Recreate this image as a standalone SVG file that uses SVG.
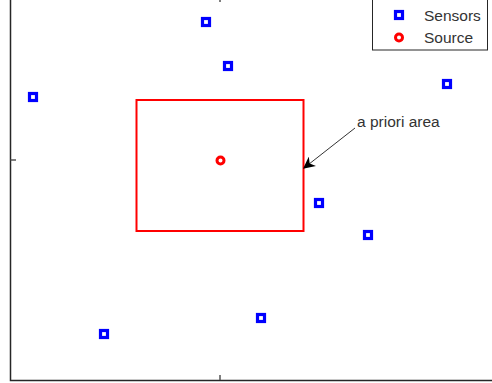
<svg xmlns="http://www.w3.org/2000/svg" width="492" height="383" viewBox="0 0 492 383">
<defs>
<style>
.sensor{fill:none;stroke:#0000ff;stroke-width:3.2}
.source{fill:none;stroke:#ff0000;stroke-width:3}
.axis{stroke:#262626;stroke-width:1.5;fill:none}
.tick{stroke:#555;stroke-width:1.5}
.lbl{font-family:"Liberation Sans",Arial,sans-serif;font-size:15.5px;fill:#333}
</style>
<marker id="ah" viewBox="0 0 10 10" refX="9" refY="5" markerWidth="12" markerHeight="12" markerUnits="userSpaceOnUse" orient="auto">
<path d="M0,0 L10,5 L0,10 L3,5 Z" fill="#000"/>
</marker>
</defs>
<rect width="492" height="383" fill="#fff"/>
<g id="axes">
<path class="axis" d="M10.5,0 V380.5 H492"/>
<line class="tick" x1="10.5" y1="160" x2="16" y2="160"/>
<line class="tick" x1="220" y1="380" x2="220" y2="375"/>
<line class="tick" x1="220" y1="0" x2="220" y2="2"/>
</g>
<g id="apriori-area">
<rect x="136.5" y="100" width="167" height="131" fill="none" stroke="#ff0000" stroke-width="2"/>
</g>
<g id="sensors">
<rect class="sensor" x="202.5" y="18.5" width="7" height="7"/>
<rect class="sensor" x="224.5" y="62.5" width="7" height="7"/>
<rect class="sensor" x="29.5" y="93.5" width="7" height="7"/>
<rect class="sensor" x="443.5" y="80.5" width="7" height="7"/>
<rect class="sensor" x="315.5" y="199.5" width="7" height="7"/>
<rect class="sensor" x="364.5" y="231.5" width="7" height="7"/>
<rect class="sensor" x="257.5" y="314.5" width="7" height="7"/>
<rect class="sensor" x="100.5" y="330.5" width="7" height="7"/>
</g>
<g id="source">
<circle class="source" cx="220.5" cy="160.5" r="3.5"/>
</g>
<g id="connectors">
<line x1="355" y1="128" x2="304" y2="168" stroke="#333" stroke-width="1" marker-end="url(#ah)"/>
</g>
<g id="annotation">
<text class="lbl" x="357" y="127">a priori area</text>
</g>
<g id="legend">
<rect x="372.5" y="-2" width="115" height="52" fill="#fff" stroke="#262626" stroke-width="1"/>
<rect class="sensor" x="395.5" y="11.5" width="7" height="7"/>
<circle class="source" cx="399" cy="37.5" r="3.5"/>
<text class="lbl" x="424" y="21">Sensors</text>
<text class="lbl" x="424" y="43">Source</text>
</g>
</svg>
